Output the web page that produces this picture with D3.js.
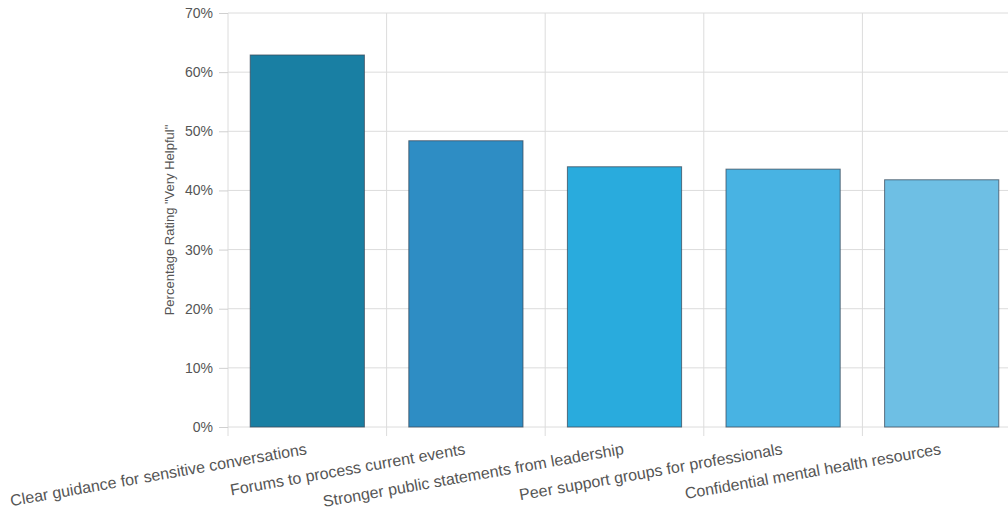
<!DOCTYPE html>
<html>
<head>
<meta charset="utf-8">
<script src="https://cdn.jsdelivr.net/npm/d3@7"></script>
<style>
  body { margin: 0; background: #fff; }
  svg { font-family: "Helvetica Neue", Helvetica, Arial, "Liberation Sans", sans-serif; }
  .grid line { stroke: #dcdcdc; }
  .axis text { fill: #555; font-size: 14px; }
  .axis line, .axis path { stroke: #d0d0d0; }
  .xlabels text { fill: #555; font-size: 16px; }
</style>
</head>
<body>
<div id="chart"></div>
<script>
// chart data
var categories = [
  "Clear guidance for sensitive conversations",
  "Forums to process current events",
  "Stronger public statements from leadership",
  "Peer support groups for professionals",
  "Confidential mental health resources"
];
var values = [62.9, 48.4, 44.0, 43.6, 41.8];
var barColors = ["#197fa3", "#2e8dc4", "#29abdd", "#48b3e3", "#6ebfe4"];
var yTicks = [0, 10, 20, 30, 40, 50, 60, 70];
var yTitle = 'Percentage Rating "Very Helpful"';

var width = 1008, height = 507,
margin = {top: 13, right: -13, bottom: 80, left: 228};

var svg = d3.select("#chart").append("svg")
  .attr("width", width).attr("height", height);

var x = d3.scaleBand()
  .domain(categories)
  .range([margin.left, width - margin.right])
  .paddingInner(0.28).paddingOuter(0.14);

var y = d3.scaleLinear()
  .domain([0, 70])
  .range([height - margin.bottom, margin.top]);

// grid lines
var grid = svg.append("g").attr("class", "grid");
grid.selectAll("line.h").data(yTicks).enter().append("line")
  .attr("class", "h")
  .attr("x1", margin.left).attr("x2", width - margin.right)
  .attr("y1", function(d){ return y(d); }).attr("y2", function(d){ return y(d); });

var step = x.step();
var bounds = categories.map(function(c, i){ return margin.left + i * step; });
grid.selectAll("line.v").data(bounds).enter().append("line")
  .attr("class", "v")
  .attr("x1", function(d){ return d; }).attr("x2", function(d){ return d; })
  .attr("y1", margin.top).attr("y2", y(0) + 9);

// bars
svg.append("g").selectAll("rect").data(values).enter().append("rect")
  .attr("x", function(d, i){ return x(categories[i]); })
  .attr("width", x.bandwidth())
  .attr("y", function(d){ return y(d); })
  .attr("height", function(d){ return y(0) - y(d); })
  .attr("fill", function(d, i){ return barColors[i]; })
  .attr("stroke", "#3b4a5a")
  .attr("stroke-opacity", 0.75)
  .attr("stroke-width", 1);

// y axis
var yAxis = svg.append("g").attr("class", "axis")
  .attr("transform", "translate(" + margin.left + ",0)")
  .call(d3.axisLeft(y).tickValues(yTicks).tickSize(9).tickPadding(6)
    .tickFormat(function(d){ return d + "%"; }));
yAxis.select(".domain").remove();

// x axis labels, tilted
svg.append("g").attr("class", "xlabels").selectAll("text").data(categories).enter().append("text")
  .attr("text-anchor", "end")
  .attr("transform", function(d){
    return "translate(" + (x(d) + x.bandwidth() / 2) + "," + (y(0) + 27) + ") rotate(-10)";
  })
  .text(function(d){ return d; });

// y title
svg.append("text")
  .attr("transform", "translate(174," + ((margin.top + y(0)) / 2) + ") rotate(-90)")
  .attr("text-anchor", "middle")
  .attr("fill", "#555")
  .style("font-size", "13px")
  .text(yTitle);
</script>
</body>
</html>
